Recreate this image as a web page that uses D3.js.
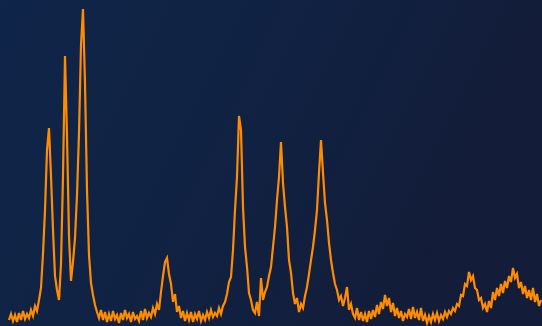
<!DOCTYPE html>
<html>
<head>
<meta charset="utf-8">
<script src="https://cdn.jsdelivr.net/npm/d3@7/dist/d3.min.js"></script>
<style>
  html, body { margin: 0; padding: 0; background: #0f2143; }
  svg { display: block; }
</style>
</head>
<body>
<svg id="chart" width="542" height="326"></svg>
<script>
// Spectrum counts, one value every channel (channel 0 .. 266)
const countsA = [6,12,5,11,4,13,6,15,7,12,8,16,10,20,15,26];
const countsB = [38,72,116,176,198,150,96,50,36,26,62,150,270,190,90,45,64,88,131,193,281,317,243,136,71,43,31,21,14,8];
const countsC = [16,6,14,4,12,5,15,7,11,3,13,6,16,8,12,4,14,7,10,5,15,6,17,8,13,9,18,12];
const countsD = [22,16,34,50,64,68,52,42,24,32,14,20,8,15,5,13,6,14,4,12,7,15,5,11,6,14,8,16,9,13,10,18,12,20,24,32,44];
const countsE = [49,76,116,149,210,196,119,79,59,33,26,16,13,24,10,48,26,34,39,50,59,79,99,126,149,184,143,119,99,66,53,33,22,28,14,22,18,30,39,52,66,79,96,116,153,186,153,123,106,83,66,53,42,36,26,30,20,28,39,16,22,12];
const countsF = [8,18,6,14,5,12,4,15,7,16,9,21,12,24,17,31,20,28,14,23,10,18,8,15,5,12,9,17,7,19,8,14,6,18,5,11,3,10,4,12,6,13,5,11,7,14,9,15,12,18,15,22,20,31,30,42,40,54,46,50,38,36,26,28,18,22,14,25,18,34,26,38,30,42,33,45,38,50,44,58,48,52,38,44,32,40,28,36,26,38,24,32,20,26];

const counts = [].concat(countsA, countsB, countsC, countsD, countsE, countsF);
const data = counts.map((v, i) => ({ channel: i, count: v }));

const W = 542, H = 326;
const svg = d3.select("#chart");

const defs = svg.append("defs");
const grad = defs.append("linearGradient").attr("id", "bg")
  .attr("x1", "0%").attr("y1", "0%").attr("x2", "100%").attr("y2", "30%");
grad.append("stop").attr("offset", "0%").attr("stop-color", "#0f2549");
grad.append("stop").attr("offset", "45%").attr("stop-color", "#102243");
grad.append("stop").attr("offset", "100%").attr("stop-color", "#131c38");
svg.append("rect").attr("width", W).attr("height", H).attr("fill", "url(#bg)");

const x = d3.scaleLinear().domain([0, counts.length - 1]).range([9, 541]);
const y = d3.scaleLinear().domain([0, 320]).range([326, 6]);

const line = d3.line().x(d => x(d.channel)).y(d => y(d.count));

svg.append("path")
  .datum(data)
  .attr("fill", "none")
  .attr("stroke", "#ff8c00")
  .attr("stroke-width", 2.2)
  .attr("stroke-linejoin", "miter")
  .attr("d", line);
</script>
</body>
</html>
